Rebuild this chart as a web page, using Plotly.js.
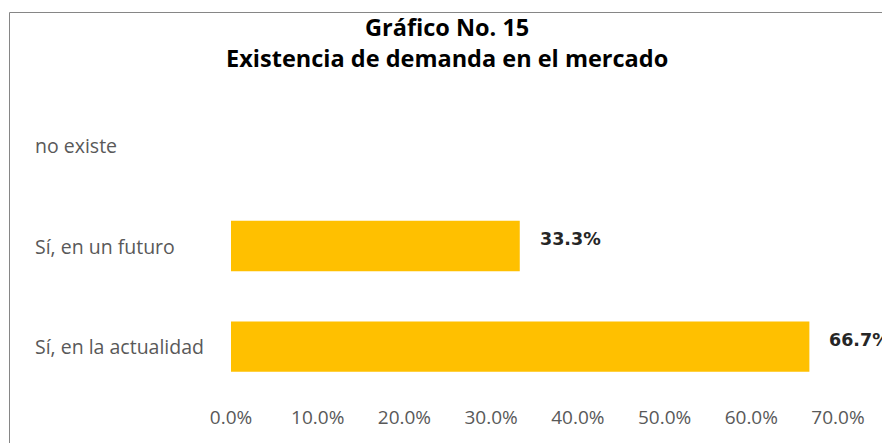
<!DOCTYPE html>
<html>
<head>
<meta charset="utf-8">
<script src="https://cdn.plot.ly/plotly-3.0.1.min.js"></script>
<style>html,body{margin:0;padding:0;background:#fff;}#chart{width:882px;height:443px;}</style>
</head>
<body>
<div id="chart"></div>
<script>
const categories = ["Sí, en la actualidad", "Sí, en un futuro", "no existe"];
const values = [0.667, 0.333, 0];
const valueLabels = ["66.7%", "33.3%", ""];
const tickVals = [0, 0.1, 0.2, 0.3, 0.4, 0.5, 0.6, 0.7];
const tickText = ["0.0%", "10.0%", "20.0%", "30.0%", "40.0%", "50.0%", "60.0%", "70.0%"];
const titleLines = ["Gráfico No. 15", "Existencia de demanda en el mercado"];

const labelFont = "Open Sans, Noto Sans, sans-serif";

const trace = {
  type: "bar",
  orientation: "h",
  y: categories,
  x: values,
  width: 0.5,
  marker: {color: "#FFC000"},
  hoverinfo: "skip"
};

const L = 231, R = 44, T = 95, B = 46, W = 882, H = 443;
const pw = W - L - R, ph = H - T - B;

const catAnnotations = categories.map(c => ({
  xref: "paper", yref: "y",
  x: (33 - L) / pw, y: c,
  xanchor: "left", yanchor: "middle",
  text: c, showarrow: false,
  font: {family: labelFont, size: 19.5, color: "#595959"}
}));

const valAnnotations = categories.map((c, i) => ({
  xref: "x", yref: "y",
  x: values[i], y: c,
  xanchor: "left", yanchor: "middle",
  xshift: 18, yshift: 7,
  text: "<b>" + valueLabels[i] + "</b>", showarrow: false,
  font: {family: "DejaVu Sans, Verdana, sans-serif", size: 17.5, color: "#262626"}
})).filter((a, i) => valueLabels[i] !== "");

const layout = {
  width: W, height: H,
  margin: {l: L, r: R, t: T, b: B, pad: 0},
  paper_bgcolor: "#ffffff",
  plot_bgcolor: "#ffffff",
  showlegend: false,
  title: {
    text: "<b>" + titleLines.join("</b><br><b>") + "</b>",
    x: 0.507, xref: "container", xanchor: "center",
    y: 1 - 36 / H, yref: "container", yanchor: "middle",
    font: {family: labelFont, size: 23.5, color: "#000000"}
  },
  xaxis: {
    range: [0, 0.7],
    tickvals: tickVals, ticktext: tickText,
    showgrid: false, zeroline: false, showline: false, ticks: "",
    ticklabelstandoff: 7,
    tickfont: {family: labelFont, size: 19, color: "#595959"},
    fixedrange: true
  },
  yaxis: {
    categoryorder: "array", categoryarray: categories,
    showticklabels: false, showgrid: false, zeroline: false, showline: false, ticks: "",
    fixedrange: true
  },
  annotations: catAnnotations.concat(valAnnotations),
  shapes: [{
    type: "rect", xref: "paper", yref: "paper",
    x0: (9.5 - L) / pw, x1: 2,
    y0: -1, y1: (H - B - 12.5) / ph,
    line: {color: "#868686", width: 1}, fillcolor: "rgba(0,0,0,0)", layer: "below"
  }]
};

Plotly.newPlot("chart", [trace], layout, {displayModeBar: false, staticPlot: true});
</script>
</body>
</html>
